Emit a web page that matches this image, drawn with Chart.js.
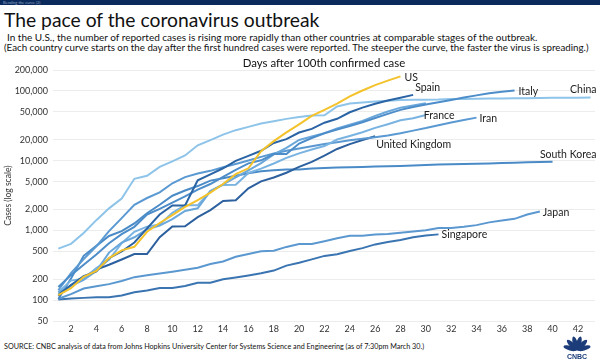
<!DOCTYPE html>
<html>
<head>
<meta charset="utf-8">
<script src="https://cdn.jsdelivr.net/npm/chart.js@4.4.1/dist/chart.umd.min.js"></script>
<style>
  body { margin: 0; background: #fff; font-family: Lato, "Liberation Sans", sans-serif; }
  #wrap { position: relative; width: 600px; height: 360px; overflow: hidden; }
  #topbar { position: absolute; left: 0; top: 0; width: 600px; height: 5px; background: #0b2a5c; color: #8fa3c2; font-size: 4px; line-height: 5px; text-indent: 3px; }
  #title { position: absolute; left: 4px; top: 10px; font-size: 19.3px; line-height: 20px; color: #111; white-space: nowrap; }
  .sub { position: absolute; left: 5px; font-size: 10px; color: #111; white-space: nowrap; }
  #xtitle { position: absolute; left: 0; width: 648px; top: 56px; text-align: center; font-size: 11.4px; color: #111; }
  #source { position: absolute; left: 4px; top: 342px; font-size: 7.2px; color: #111; white-space: nowrap; }
  #logo { position: absolute; left: 561px; top: 335px; }
  #chart { position: absolute; left: 0; top: 55px; }
</style>
</head>
<body>
<div id="wrap">
  <div id="topbar">Bending the curve (2)</div>
  <div id="title">The pace of the coronavirus outbreak</div>
  <div class="sub" style="top:31px;left:7px">In the U.S., the number of reported cases is rising more rapidly than other countries at comparable stages of the outbreak.</div>
  <div class="sub" style="top:41px;left:4px;font-size:9.75px">(Each country curve starts on the day after the first hundred cases were reported. The steeper the curve, the faster the virus is spreading.)</div>
  <canvas id="chart" width="600" height="285"></canvas>
  <div id="xtitle">Days after 100th confirmed case</div>
  <div id="source">SOURCE: CNBC analysis of data from Johns Hopkins University Center for Systems Science and Engineering (as of 7:30pm March 30.)</div>
  <svg id="logo" width="32" height="24" viewBox="0 0 32 24">
    <g fill="#1c3d7a">
      <ellipse cx="16" cy="8" rx="2.4" ry="7" transform="rotate(-75 16 15)"/>
      <ellipse cx="16" cy="8" rx="2.4" ry="7" transform="rotate(-45 16 15)"/>
      <ellipse cx="16" cy="8" rx="2.4" ry="7" transform="rotate(-15 16 15)"/>
      <ellipse cx="16" cy="8" rx="2.4" ry="7" transform="rotate(15 16 15)"/>
      <ellipse cx="16" cy="8" rx="2.4" ry="7" transform="rotate(45 16 15)"/>
      <ellipse cx="16" cy="8" rx="2.4" ry="7" transform="rotate(75 16 15)"/>
      <text x="16" y="23.5" font-size="7" font-weight="bold" text-anchor="middle" font-family="Liberation Sans, Arial">CNBC</text>
    </g>
  </svg>
</div>
<script>
// cases per day, starting the day after the 100th case
var usCases = [118, 149, 217, 262, 402, 518, 583, 959, 1281, 1663, 2179, 2727, 3499, 4632, 6421, 7786, 13680, 19101, 25493, 33276, 43847, 53740, 65778, 83836, 101657, 121478, 140886, 161807];
var spainCases = [120, 165, 222, 259, 400, 500, 673, 1073, 1695, 2277, 2277, 5232, 6391, 7798, 9942, 11748, 13910, 17963, 20410, 25374, 28603, 35136, 39885, 49515, 57786, 65719, 73235, 80110, 87956];
var italyCases = [155, 229, 322, 453, 655, 888, 1128, 1694, 2036, 2502, 3089, 3858, 4636, 5883, 7375, 9172, 10149, 12462, 12462, 17660, 21157, 24747, 27980, 31506, 35713, 41035, 47021, 53578, 59138, 63927, 69176, 74386, 80589, 86498, 92472, 97689, 101739];
var chinaCases = [548, 643, 920, 1406, 2075, 2877, 5509, 6087, 8141, 9802, 11891, 16630, 19716, 23707, 27440, 30587, 34110, 36814, 39829, 42354, 44386, 44759, 59895, 66358, 68413, 70513, 72434, 74211, 74619, 75077, 75550, 77001, 77022, 77241, 77754, 78166, 78600, 78928, 79356, 79932, 80136, 80261, 80386];
var germanyCases = [130, 159, 196, 262, 482, 670, 799, 1040, 1176, 1457, 1908, 2078, 3675, 4585, 5795, 7272, 9257, 12327, 15320, 19848, 22213, 24873, 29056, 32986, 37323, 43938, 50871, 57695, 62095, 66885];
var franceCases = [130, 191, 204, 288, 380, 656, 959, 1136, 1219, 1794, 2293, 2293, 3681, 4496, 4532, 6683, 7715, 9124, 10970, 12758, 14463, 16243, 20123, 22622, 25600, 29551, 33402, 38105, 40708, 45170];
var iranCases = [139, 245, 388, 593, 978, 1501, 2336, 2922, 3513, 4747, 5823, 6566, 7161, 8042, 9000, 10075, 11364, 12729, 13938, 14991, 16169, 17361, 18407, 19644, 20610, 21638, 23049, 24811, 27017, 29406, 32332, 35408, 38309, 41495];
var ukCases = [116, 164, 207, 274, 322, 384, 459, 459, 802, 1144, 1145, 1551, 1960, 2642, 2716, 4014, 5067, 5745, 6726, 8164, 9640, 11812, 14745, 17312, 19780, 22453];
var koreaCases = [104, 204, 433, 602, 833, 977, 1261, 1766, 2337, 3150, 3736, 4335, 5186, 5621, 6088, 6593, 7041, 7314, 7478, 7513, 7755, 7869, 7979, 8086, 8162, 8236, 8320, 8413, 8565, 8652, 8799, 8897, 8961, 9037, 9137, 9241, 9332, 9478, 9583, 9661];
var japanCases = [105, 122, 147, 159, 170, 189, 214, 228, 241, 256, 274, 293, 331, 360, 420, 461, 502, 511, 581, 639, 639, 701, 773, 839, 839, 878, 889, 924, 963, 1007, 1086, 1086, 1128, 1193, 1307, 1387, 1468, 1693, 1866];
var singaporeCases = [102, 106, 108, 110, 110, 117, 130, 138, 150, 150, 160, 178, 178, 200, 212, 226, 243, 266, 313, 345, 385, 432, 455, 509, 558, 631, 683, 732, 802, 844, 879];

var dayTicks = [2, 4, 6, 8, 10, 12, 14, 16, 18, 20, 22, 24, 26, 28, 30, 32, 34, 36, 38, 40, 42];
var caseTicks = [50, 100, 200, 500, 1000, 2000, 5000, 10000, 20000, 50000, 100000, 200000];

function toPoints(arr){
	return arr.map(function(v, i){ return { x: i + 1, y: v }; });
}

function line(label, arr, color, lbl){
	return {
		label: label,
		data: toPoints(arr),
		borderColor: color,
		backgroundColor: color,
		borderWidth: 2,
		pointRadius: 0,
		tension: 0,
		fill: false,
		endLabel: lbl
	};
}

var endLabels = {
	id: 'endLabels',
	afterDatasetsDraw: function(chart){
		var ctx = chart.ctx;
		chart.data.datasets.forEach(function(ds, i){
			if (!ds.endLabel) return;
			var meta = chart.getDatasetMeta(i);
			var pt = meta.data[meta.data.length - 1];
			ctx.save();
			ctx.font = '10.5px Lato';
			ctx.fillStyle = '#222';
			ctx.textAlign = ds.endLabel.align || 'left';
			ctx.textBaseline = 'middle';
			ctx.fillText(ds.label, pt.x + ds.endLabel.dx, pt.y + ds.endLabel.dy);
			ctx.restore();
		});
	}
};

new Chart(document.getElementById('chart'), {
	type: 'line',
	data: {
		datasets: [
			line('US', usCases, '#f4c22b', { dx: 4, dy: 1 }),
			line('Spain', spainCases, '#2a64a4', { dx: 2, dy: -7 }),
			line('Italy', italyCases, '#4d8dc9', { dx: 4, dy: 1 }),
			line('China', chinaCases, '#8ec4e9', { dx: 6, dy: -8, align: 'right' }),
			line('Germany', germanyCases, '#6aa7db', null),
			line('France', franceCases, '#79b3e1', { dx: -2, dy: 1 }),
			line('Iran', iranCases, '#5a99d2', { dx: 3, dy: 1 }),
			line('United Kingdom', ukCases, '#2c609e', { dx: 1, dy: 8 }),
			line('South Korea', koreaCases, '#4a8bc7', { dx: 44, dy: -7, align: 'right' }),
			line('Japan', japanCases, '#5b98d0', { dx: 3, dy: 1 }),
			line('Singapore', singaporeCases, '#3a74b1', { dx: 3, dy: 0 })
		]
	},
	options: {
		responsive: false,
		animation: false,
		layout: { padding: { top: 15, right: 5, bottom: 4, left: 0 } },
		plugins: {
			legend: { display: false },
			tooltip: { enabled: false }
		},
		scales: {
			x: {
				type: 'linear',
				min: 0.58,
				max: 43.35,
				afterBuildTicks: function(scale){
					scale.ticks = dayTicks.map(function(v){ return { value: v }; });
				},
				grid: { display: false, drawTicks: false },
				border: { display: false },
				ticks: { padding: 2, color: '#333', font: { family: 'Lato', size: 9 } }
			},
			y: {
				type: 'logarithmic',
				min: 50,
				max: 200000,
				afterBuildTicks: function(scale){
					scale.ticks = caseTicks.map(function(v){ return { value: v }; });
				},
				afterFit: function(scale){ scale.width = 53; },
				grid: { color: '#ececec', drawTicks: false },
				border: { display: false },
				title: { display: true, text: 'Cases (log scale)', color: '#333', font: { family: 'Lato', size: 8.5 }, padding: 3 },
				ticks: {
					padding: 5,
					color: '#333',
					font: { family: 'Lato', size: 9 },
					callback: function(v){ return Number(v).toLocaleString('en-US'); }
				}
			}
		}
	},
	plugins: [endLabels]
});
</script>
</body>
</html>
